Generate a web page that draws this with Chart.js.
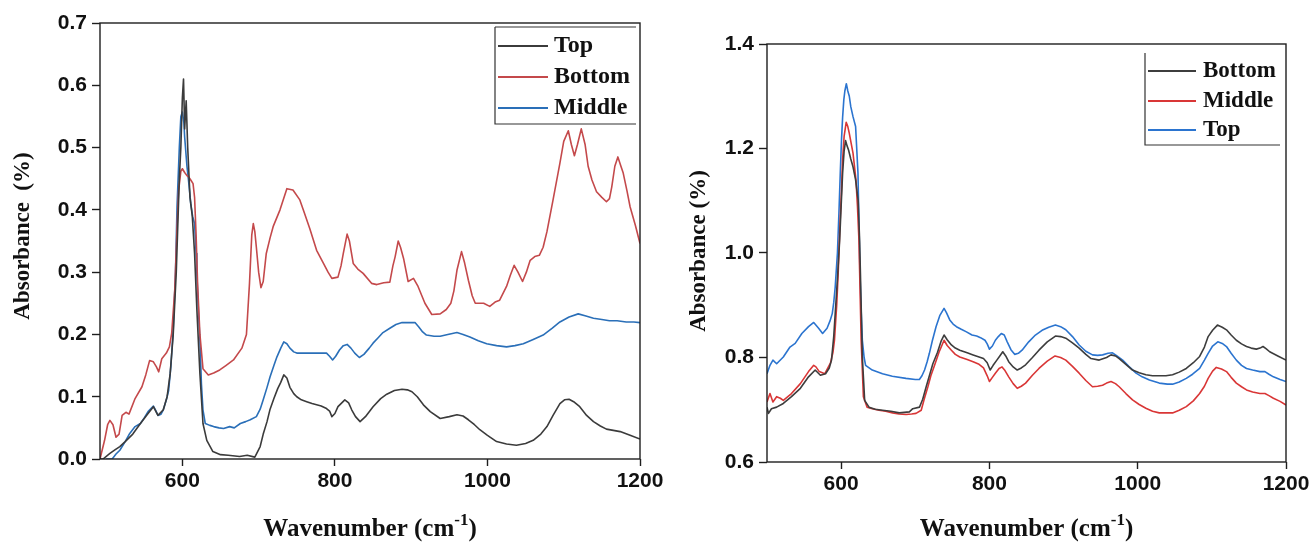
<!DOCTYPE html>
<html>
<head>
<meta charset="utf-8">
<script src="https://cdn.jsdelivr.net/npm/chart.js@4.4.1/dist/chart.umd.min.js"></script>
<style>
  html, body { margin: 0; padding: 0; background: #fff; }
  body { width: 1314px; height: 547px; position: relative; overflow: hidden; }
  canvas { position: absolute; top: 0; }
  #chart-left { left: 0; }
  #chart-right { left: 672px; }
</style>
</head>
<body>
<canvas id="chart-left" width="680" height="547"></canvas>
<canvas id="chart-right" width="642" height="547"></canvas>
<script>
// --- DADOS: espectro esquerdo ---
const leftTopX = [492, 496, 505, 512, 518, 525, 535, 545, 555, 562, 568, 575, 580, 584, 588, 592, 596, 598, 600, 601.5, 603, 605, 607, 610, 613, 616, 619, 623, 627, 632, 640, 650, 660, 675, 685, 695, 702, 706, 711, 715, 720, 725, 729, 733, 737, 741, 746, 750, 756, 763, 770, 776, 782, 789, 793, 796, 800, 804, 809, 813, 818, 822, 827, 833, 840, 850, 860, 868, 878, 888, 895, 901, 908, 916, 925, 938, 950, 960, 968, 975, 983, 990, 1000, 1012, 1025, 1038, 1050, 1060, 1070, 1078, 1086, 1095, 1101, 1107, 1113, 1121, 1130, 1139, 1148, 1156, 1165, 1174, 1187, 1200];
const leftTopY = [0.0, 0.0, 0.009, 0.015, 0.02, 0.028, 0.04, 0.057, 0.073, 0.084, 0.07, 0.079, 0.1, 0.137, 0.2, 0.3, 0.45, 0.5, 0.58, 0.61, 0.53, 0.575, 0.5, 0.42, 0.39, 0.33, 0.24, 0.137, 0.057, 0.03, 0.012, 0.007, 0.006, 0.004, 0.006, 0.003, 0.02, 0.04, 0.06, 0.08, 0.097, 0.113, 0.123, 0.135, 0.13, 0.115, 0.105, 0.1, 0.095, 0.092, 0.089, 0.087, 0.085, 0.081, 0.077, 0.068, 0.073, 0.084, 0.09, 0.095, 0.09, 0.079, 0.068, 0.06, 0.068, 0.084, 0.097, 0.104, 0.11, 0.112, 0.111, 0.108, 0.1, 0.087, 0.076, 0.065, 0.068, 0.071, 0.069, 0.063, 0.055, 0.047, 0.038, 0.028, 0.024, 0.022, 0.025, 0.03, 0.04, 0.052, 0.07, 0.089, 0.095, 0.096, 0.092, 0.084, 0.07, 0.06, 0.053, 0.048, 0.046, 0.044, 0.038, 0.032];

const leftBottomX = [492, 494, 498, 502, 505, 509, 513, 517, 521, 526, 530, 538, 547, 552, 557, 562, 566, 569, 573, 579, 583, 586, 590, 593, 595, 598, 600, 603, 606, 608, 611, 614, 616, 618, 620, 623, 627, 634, 641, 649, 657, 667, 678, 684, 688, 691, 693, 695, 697, 700, 703, 706, 710, 715, 719, 728, 737, 745, 754, 760, 767, 776, 785, 791, 796, 804, 808, 811, 816, 819, 824, 830, 837, 848, 855, 864, 872, 876, 879, 883, 886, 890, 896, 903, 909, 918, 927, 938, 946, 952, 956, 960, 966, 970, 975, 980, 984, 995, 1003, 1010, 1016, 1025, 1030, 1035, 1040, 1046, 1051, 1056, 1062, 1068, 1073, 1078, 1086, 1095, 1100, 1106, 1110, 1114, 1118, 1123, 1128, 1132, 1137, 1143, 1150, 1156, 1160, 1163, 1167, 1171, 1175, 1178, 1183, 1187, 1194, 1200];
const leftBottomY = [0.0, 0.01, 0.03, 0.055, 0.062, 0.055, 0.035, 0.04, 0.07, 0.075, 0.072, 0.097, 0.116, 0.135, 0.158, 0.156, 0.148, 0.14, 0.161, 0.17, 0.18, 0.202, 0.271, 0.37, 0.43, 0.462, 0.466, 0.46, 0.455, 0.453, 0.448, 0.442, 0.42, 0.36, 0.28, 0.2, 0.145, 0.135, 0.138, 0.143, 0.15, 0.159, 0.178, 0.2, 0.282, 0.36, 0.378, 0.365, 0.34, 0.3, 0.275, 0.285, 0.33, 0.355, 0.373, 0.4, 0.434, 0.432, 0.416, 0.395, 0.37, 0.335, 0.314, 0.3, 0.29, 0.292, 0.31, 0.33, 0.361, 0.35, 0.314, 0.305, 0.298, 0.282, 0.28, 0.283, 0.284, 0.31, 0.325, 0.35, 0.34, 0.322, 0.285, 0.29, 0.277, 0.25, 0.232, 0.233, 0.24, 0.25, 0.27, 0.303, 0.333, 0.315, 0.287, 0.262, 0.25, 0.25, 0.245, 0.252, 0.255, 0.277, 0.295, 0.311, 0.3, 0.285, 0.3, 0.319, 0.325, 0.327, 0.34, 0.365, 0.416, 0.475, 0.51, 0.527, 0.505, 0.487, 0.505, 0.53, 0.505, 0.47, 0.448, 0.429, 0.42, 0.413, 0.418, 0.437, 0.47, 0.485, 0.47, 0.459, 0.43, 0.405, 0.375, 0.346];

const leftMiddleX = [500, 508, 513, 518, 525, 531, 538, 545, 550, 555, 562, 565, 568, 572, 575, 579, 582, 585, 588, 591, 593, 596, 598, 600, 602, 603, 606, 608, 611, 613.5, 616, 618, 619, 621, 623, 625, 627, 630, 636, 641, 648, 654, 662, 668, 676, 683, 689, 697, 702, 706, 711, 715, 720, 724, 729, 733, 737, 741, 746, 750, 760, 772, 780, 789, 793, 797, 801, 806, 811, 816, 821, 826, 832, 838, 845, 850, 857, 863, 872, 880, 888, 896, 905, 910, 915, 920, 930, 938, 948, 960, 968, 977, 988, 999, 1012, 1025, 1036, 1047, 1060, 1073, 1085, 1095, 1107, 1119, 1128, 1139, 1150, 1160, 1170, 1182, 1192, 1200];
const leftMiddleY = [0.0, 0.0, 0.008, 0.014, 0.028, 0.041, 0.052, 0.057, 0.066, 0.076, 0.085, 0.078, 0.07, 0.072, 0.079, 0.095, 0.11, 0.15, 0.207, 0.3, 0.405, 0.5, 0.55, 0.557, 0.54, 0.517, 0.47, 0.448, 0.41, 0.389, 0.378, 0.33, 0.298, 0.24, 0.19, 0.12, 0.079, 0.057, 0.054, 0.052, 0.05, 0.049, 0.052, 0.05, 0.057, 0.06, 0.063, 0.068, 0.08, 0.095, 0.115, 0.132, 0.15, 0.164, 0.178, 0.188, 0.185, 0.178, 0.172, 0.17, 0.17, 0.17, 0.17, 0.17, 0.165, 0.159, 0.165, 0.175, 0.182, 0.184, 0.178, 0.17, 0.163, 0.168, 0.178, 0.186, 0.195, 0.203, 0.21, 0.216, 0.219, 0.219, 0.219, 0.212, 0.204, 0.199, 0.197, 0.197, 0.2, 0.203, 0.2, 0.196, 0.19, 0.185, 0.182, 0.18, 0.182, 0.185, 0.192, 0.199, 0.21, 0.22, 0.228, 0.233, 0.23, 0.226, 0.224, 0.222, 0.222, 0.22, 0.22, 0.219];

// --- DADOS: espectro direito ---
const rightBottomX = [500, 502, 506, 513, 522, 533, 545, 556, 565, 572, 579, 584, 587, 590, 592, 595, 598, 600, 602, 604, 606, 608, 610, 613, 616, 619.5, 623, 625, 626, 628.6, 631.7, 637.6, 646, 655.8, 667, 678.5, 692, 696.6, 705.7, 710, 714.7, 719, 723.7, 730, 735, 738.8, 743, 748.7, 754, 760, 770, 778, 786, 792, 797, 801, 805, 810, 814, 818, 822, 826, 832, 837.5, 843, 848.8, 858, 866.8, 878, 889, 896, 903, 912, 921, 930, 937, 948, 958, 964, 970, 975, 984, 993, 1002, 1011, 1020, 1029, 1038, 1047, 1056, 1065.5, 1075, 1083.5, 1090, 1095, 1101, 1107.5, 1114, 1119.7, 1126, 1133, 1140, 1146.7, 1153, 1160, 1165, 1169, 1173, 1178, 1189, 1200];
const rightBottomY = [0.705, 0.693, 0.702, 0.705, 0.712, 0.725, 0.741, 0.763, 0.776, 0.766, 0.769, 0.78, 0.795, 0.84, 0.884, 0.95, 1.025, 1.09, 1.153, 1.195, 1.215, 1.205, 1.197, 1.18, 1.165, 1.14, 1.1, 1.02, 0.961, 0.801, 0.718, 0.705, 0.701, 0.699, 0.697, 0.694, 0.696, 0.702, 0.705, 0.72, 0.744, 0.765, 0.788, 0.81, 0.832, 0.843, 0.834, 0.824, 0.818, 0.814, 0.809, 0.805, 0.801, 0.798, 0.79, 0.776, 0.785, 0.795, 0.803, 0.811, 0.803, 0.792, 0.782, 0.776, 0.78, 0.786, 0.8, 0.814, 0.83, 0.841, 0.84, 0.837, 0.828, 0.818, 0.806, 0.798, 0.795, 0.8, 0.805, 0.803, 0.798, 0.787, 0.776, 0.771, 0.767, 0.765, 0.765, 0.765, 0.767, 0.772, 0.779, 0.79, 0.802, 0.82, 0.84, 0.852, 0.862, 0.858, 0.853, 0.843, 0.833, 0.826, 0.821, 0.818, 0.816, 0.818, 0.821, 0.817, 0.811, 0.803, 0.795];

const rightMiddleX = [500, 504, 508, 513, 518, 522, 533, 545, 556, 563, 566, 570.5, 578, 585.5, 589, 591, 594, 596, 598, 600.5, 602, 604, 606.8, 609, 611, 616, 620, 622, 624, 627, 630, 635, 642, 651, 660, 669.4, 678, 687.5, 695, 701, 708, 712, 717, 721, 726, 732, 738.8, 743, 748.7, 754, 760, 770, 778, 786, 792, 797, 800, 804, 808, 813, 817, 821, 826, 832, 837.5, 843, 848.8, 858, 866.8, 878, 888.5, 896, 903, 912, 921, 930, 939, 946, 952.6, 958, 964, 970, 975, 984, 993, 1002, 1011, 1020, 1029, 1038, 1047, 1056, 1065.5, 1075, 1083.5, 1090, 1095, 1101, 1106, 1113, 1119.7, 1126, 1133, 1140, 1146.7, 1155, 1164.8, 1171.6, 1177, 1183, 1192, 1200];
const rightMiddleY = [0.715, 0.731, 0.715, 0.725, 0.722, 0.718, 0.731, 0.75, 0.773, 0.785, 0.782, 0.773, 0.769, 0.789, 0.81, 0.833, 0.9, 0.961, 1.04, 1.121, 1.18, 1.223, 1.25, 1.242, 1.229, 1.191, 1.14, 1.09, 1.025, 0.833, 0.725, 0.705, 0.702, 0.699, 0.697, 0.694, 0.692, 0.691, 0.692, 0.693, 0.699, 0.72, 0.744, 0.765, 0.785, 0.81, 0.833, 0.823, 0.814, 0.806, 0.801, 0.796, 0.792, 0.787, 0.78, 0.765, 0.754, 0.762, 0.77, 0.779, 0.782, 0.775, 0.763, 0.75, 0.741, 0.745, 0.751, 0.766, 0.779, 0.793, 0.803, 0.8, 0.795, 0.783, 0.77, 0.756, 0.744, 0.745, 0.747, 0.751, 0.754, 0.75, 0.744, 0.731, 0.719, 0.71, 0.703, 0.697, 0.694, 0.694, 0.694, 0.699, 0.706, 0.717, 0.731, 0.745, 0.76, 0.774, 0.781, 0.778, 0.773, 0.762, 0.751, 0.744, 0.738, 0.734, 0.731, 0.731, 0.727, 0.722, 0.716, 0.709];

const rightTopX = [500, 504, 508, 513, 522, 531, 538, 547, 556, 563, 569.6, 575, 581, 585, 588, 590, 592, 595, 597, 599, 600.5, 602, 603.6, 605, 607, 609, 611, 613, 616, 619.5, 621, 622.7, 624, 625.4, 627, 628.6, 631, 633, 642, 655.8, 669, 687.5, 700, 705.5, 709, 712.5, 716, 719, 723, 728, 733, 738.8, 742, 746.5, 751, 755.5, 762, 769, 776.5, 782.8, 788, 794, 797, 800, 804, 808, 812, 816, 820, 824, 829, 834, 839, 844, 853, 862, 871, 880, 889, 896, 903, 912, 921, 930, 939, 946, 952.6, 960, 966, 972, 979.7, 988, 997.8, 1006, 1015.8, 1029, 1040, 1047, 1056, 1065.5, 1074, 1083.5, 1090, 1095, 1101, 1108, 1114, 1119.7, 1126, 1133, 1140, 1146.7, 1155, 1164.8, 1171.6, 1177, 1183, 1192, 1200];
const rightTopY = [0.769, 0.785, 0.795, 0.788, 0.801, 0.82, 0.827, 0.846, 0.859, 0.867, 0.856, 0.846, 0.856, 0.87, 0.884, 0.905, 0.935, 1.0, 1.076, 1.16, 1.217, 1.26, 1.293, 1.31, 1.324, 1.31, 1.3, 1.28, 1.261, 1.242, 1.2, 1.153, 1.06, 0.961, 0.89, 0.833, 0.8, 0.785, 0.776, 0.769, 0.764, 0.76, 0.758, 0.758, 0.765, 0.776, 0.792, 0.808, 0.832, 0.859, 0.88, 0.894, 0.886, 0.872, 0.864, 0.859, 0.854, 0.849, 0.843, 0.841, 0.838, 0.833, 0.826, 0.816, 0.822, 0.833, 0.84, 0.846, 0.843, 0.83, 0.815, 0.806, 0.808, 0.814, 0.83, 0.843, 0.852, 0.858, 0.862, 0.859, 0.853, 0.84, 0.824, 0.812, 0.805, 0.804, 0.805, 0.808, 0.809, 0.803, 0.795, 0.783, 0.77, 0.763, 0.757, 0.751, 0.749, 0.749, 0.753, 0.76, 0.768, 0.779, 0.795, 0.808, 0.822, 0.83, 0.827, 0.821, 0.808, 0.795, 0.785, 0.779, 0.776, 0.773, 0.773, 0.768, 0.763, 0.758, 0.754];

// --- EIXOS ---
const wavenumberTicks = [600, 800, 1000, 1200];
const leftAbsTicks = [0.0, 0.1, 0.2, 0.3, 0.4, 0.5, 0.6, 0.7];
const rightAbsTicks = [0.6, 0.8, 1.0, 1.2, 1.4];

const SANS = '"Liberation Sans", Arial, sans-serif';
const SERIF = '"Liberation Serif", "Times New Roman", serif';
const INK = '#1e1e1e';

function toPoints(xs, ys) {
    return xs.map((x, i) => ({ x, y: ys[i] }));
}

function line(label, xs, ys, color) {
    return {
        label,
        data: toPoints(xs, ys),
        borderColor: color,
        borderWidth: 1.6,
        pointRadius: 0,
        tension: 0,
        fill: false,
        borderJoinStyle: 'round'
    };
}

// moldura, títulos dos eixos e legenda desenhados à mão
const decorPlugin = {
    id: 'decor',
    afterDraw(chart, args, o) {
        const { ctx, chartArea: a } = chart;
        ctx.save();

        ctx.strokeStyle = INK;
        ctx.lineWidth = 1.4;
        ctx.strokeRect(a.left, a.top, a.right - a.left, a.bottom - a.top);

        // título Y
        ctx.fillStyle = '#111';
        ctx.font = `bold 23px ${SERIF}`;
        ctx.textAlign = 'center';
        ctx.textBaseline = 'middle';
        ctx.save();
        ctx.translate(o.yTitleX, o.yTitleY);
        ctx.rotate(-Math.PI / 2);
        ctx.fillText(o.yTitle, 0, 0);
        ctx.restore();

        // título X com expoente
        const main = 'Wavenumber (cm';
        const sup = '-1';
        const close = ')';
        const big = `bold 25px ${SERIF}`;
        const small = `bold 17px ${SERIF}`;
        ctx.textAlign = 'left';
        ctx.textBaseline = 'alphabetic';
        ctx.font = big;
        const wMain = ctx.measureText(main).width;
        const wClose = ctx.measureText(close).width;
        ctx.font = small;
        const wSup = ctx.measureText(sup).width;
        const cx = (a.left + a.right) / 2;
        let x = cx - (wMain + wSup + wClose) / 2;
        const base = o.xTitleBase;
        ctx.font = big;
        ctx.fillText(main, x, base);
        x += wMain;
        ctx.font = small;
        ctx.fillText(sup, x, base - 11);
        x += wSup;
        ctx.font = big;
        ctx.fillText(close, x, base);

        // legenda
        const lg = o.legend;
        ctx.strokeStyle = '#333';
        ctx.lineWidth = 1.2;
        ctx.beginPath();
        if (lg.top !== null) {
            ctx.moveTo(lg.left, lg.top);
            ctx.lineTo(lg.right, lg.top);
        }
        ctx.moveTo(lg.left, lg.top !== null ? lg.top : lg.lineTop);
        ctx.lineTo(lg.left, lg.bottom);
        ctx.lineTo(lg.right, lg.bottom);
        ctx.stroke();

        ctx.font = `bold ${lg.fontSize}px ${SERIF}`;
        ctx.textBaseline = 'middle';
        chart.data.datasets.forEach((ds, i) => {
            const y = lg.rows[i];
            ctx.strokeStyle = ds.borderColor;
            ctx.lineWidth = 2;
            ctx.beginPath();
            ctx.moveTo(lg.sampleFrom, y);
            ctx.lineTo(lg.sampleTo, y);
            ctx.stroke();
            ctx.fillStyle = '#111';
            ctx.fillText(ds.label, lg.textX, y);
        });

        ctx.restore();
    }
};

function buildChart(canvasId, datasets, cfg) {
    const ctx = document.getElementById(canvasId).getContext('2d');
    const tickFont = { family: SANS, size: 21, weight: 'bold' };
    return new Chart(ctx, {
        type: 'line',
        data: { datasets },
        plugins: [decorPlugin],
        options: {
            responsive: false,
            animation: false,
            events: [],
            layout: { padding: cfg.padding },
            plugins: {
                legend: { display: false },
                tooltip: { enabled: false },
                decor: cfg.decor
            },
            scales: {
                x: {
                    type: 'linear',
                    min: cfg.xMin,
                    max: 1200,
                    afterBuildTicks: (s) => { s.ticks = wavenumberTicks.map(v => ({ value: v })); },
                    afterFit: (s) => { s.height = cfg.xHeight; s.paddingLeft = 0; s.paddingRight = 0; },
                    border: { display: false },
                    grid: { drawOnChartArea: false, drawTicks: true, tickLength: 7, tickColor: INK, tickWidth: 1.4 },
                    ticks: { font: tickFont, color: '#111', padding: 3, maxRotation: 0, callback: v => String(v) }
                },
                y: {
                    type: 'linear',
                    min: cfg.yTicks[0],
                    max: cfg.yTicks[cfg.yTicks.length - 1],
                    afterBuildTicks: (s) => { s.ticks = cfg.yTicks.map(v => ({ value: v })); },
                    afterFit: (s) => { s.width = cfg.yWidth; s.paddingTop = 0; s.paddingBottom = 0; },
                    border: { display: false },
                    grid: { drawOnChartArea: false, drawTicks: true, tickLength: 8, tickColor: INK, tickWidth: 1.4 },
                    ticks: { font: tickFont, color: '#111', padding: 5, callback: v => Number(v).toFixed(1) }
                }
            }
        }
    });
}

// --- GRÁFICO ESQUERDO ---
buildChart('chart-left', [
    line('Top', leftTopX, leftTopY, '#3b3b3b'),
    line('Bottom', leftBottomX, leftBottomY, '#c4494b'),
    line('Middle', leftMiddleX, leftMiddleY, '#2a6fb8')
], {
    xMin: 492,
    yTicks: leftAbsTicks,
    yWidth: 100,
    xHeight: 88,
    padding: { left: 0, right: 40, top: 23, bottom: 0 },
    decor: {
        yTitle: 'Absorbance  (%)', yTitleX: 23, yTitleY: 236, xTitleBase: 536,
        legend: { left: 495, right: 636, top: 27, bottom: 124, rows: [46, 77, 108], sampleFrom: 498, sampleTo: 548, textX: 554, fontSize: 24 }
    }
});

// --- GRÁFICO DIREITO ---
buildChart('chart-right', [
    line('Bottom', rightBottomX, rightBottomY, '#3d3d3d'),
    line('Middle', rightMiddleX, rightMiddleY, '#d93636'),
    line('Top', rightTopX, rightTopY, '#2b74cf')
], {
    xMin: 500,
    yTicks: rightAbsTicks,
    yWidth: 95,
    xHeight: 85,
    padding: { left: 0, right: 28, top: 44, bottom: 0 },
    decor: {
        yTitle: 'Absorbance (%)', yTitleX: 27, yTitleY: 251, xTitleBase: 536,
        legend: { left: 473, right: 608, top: null, lineTop: 53, bottom: 145, rows: [71, 101, 130], sampleFrom: 476, sampleTo: 524, textX: 531, fontSize: 23 }
    }
});
</script>
</body>
</html>
